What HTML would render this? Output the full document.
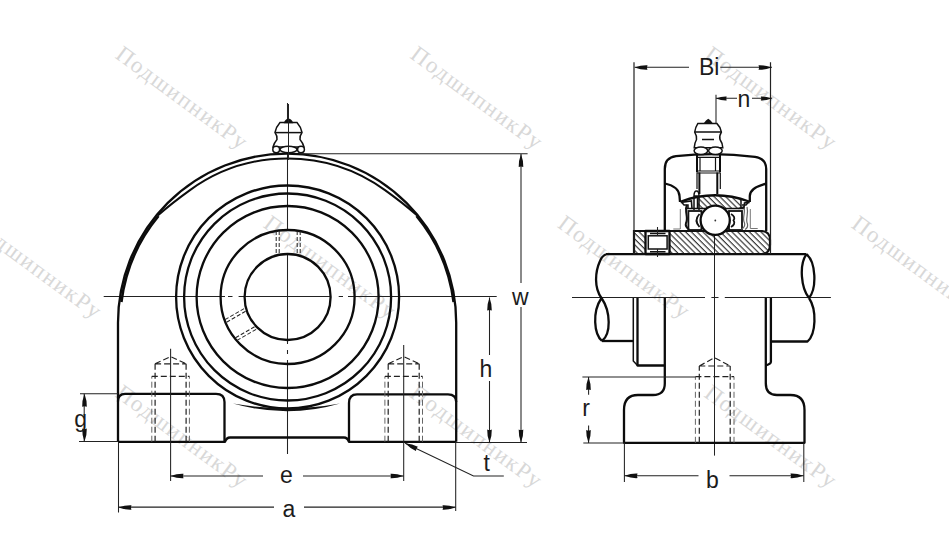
<!DOCTYPE html>
<html><head><meta charset="utf-8">
<style>
html,body{margin:0;padding:0;background:#fff;width:949px;height:543px;overflow:hidden}
svg{display:block}
.k{stroke:#0c0c0c;stroke-width:2.3;fill:none;stroke-linejoin:round}
.m{stroke:#111;stroke-width:1.5;fill:none}
.t{stroke:#222;stroke-width:1.05;fill:none}
.d{stroke:#222;stroke-width:1.2;stroke-dasharray:6 3;fill:none}
.ar{fill:#111;stroke:none}
.lbl{font-family:"Liberation Sans",sans-serif;font-size:23px;fill:#1c1c1c}
.wm{font-family:"Liberation Serif",serif;font-size:23px;letter-spacing:1.5px;fill:#d8d8d8}
</style></head>
<body>
<svg width="949" height="543" viewBox="0 0 949 543">
<defs>
<path id="arr" fill="#111" d="M0,0 Q-2.6,-7 -2.3,-13 Q0,-12 2.3,-13 Q2.6,-7 0,0 Z"/>
<pattern id="hatch" width="4.1" height="8" patternUnits="userSpaceOnUse" patternTransform="rotate(-45)">
<line x1="1" y1="-2" x2="1" y2="10" stroke="#111" stroke-width="1"/>
</pattern>
</defs>

<!-- watermarks -->
<g id="wms">
<text class="wm" transform="translate(114.2,57.3) rotate(36.3)">ПодшипникРу</text>
<text class="wm" transform="translate(409.1,57.3) rotate(36.3)">ПодшипникРу</text>
<text class="wm" transform="translate(703.2,57.6) rotate(36.3)">ПодшипникРу</text>
<text class="wm" transform="translate(-32,226.6) rotate(36.3)">ПодшипникРу</text>
<text class="wm" transform="translate(262.3,226.6) rotate(36.3)">ПодшипникРу</text>
<text class="wm" transform="translate(556.4,226.6) rotate(36.3)">ПодшипникРу</text>
<text class="wm" transform="translate(850.2,226.7) rotate(36.3)">ПодшипникРу</text>
<text class="wm" transform="translate(114.2,395.9) rotate(36.3)">ПодшипникРу</text>
<text class="wm" transform="translate(408.6,395.9) rotate(36.3)">ПодшипникРу</text>
<text class="wm" transform="translate(703,395.9) rotate(36.3)">ПодшипникРу</text>
</g>

<!-- ================= LEFT VIEW ================= -->
<g id="left">
<!-- centerlines -->
<path class="t" d="M103.7,296.5 H225 M228,296.5 H232.5 M238.6,296.5 H331 M338.7,296.5 H343 M348,296.5 H496.7"/>
<path class="t" d="M287.5,103 V231 M287.5,253 V344 M287.5,350 V354 M287.5,360 V454"/>
<!-- circles -->
<circle class="k" cx="287.6" cy="297" r="43"/>
<circle class="k" cx="287.6" cy="297" r="67"/>
<circle class="k" cx="287.6" cy="297" r="91"/>
<circle class="k" cx="287.6" cy="297" r="103.5"/>
<circle class="k" cx="287.6" cy="297" r="111.5"/>
<!-- crescent -->
<path class="ar" d="M233,403.5 Q287.5,419 340,403.5 Q287.5,413 233,403.5 Z"/>
<!-- housing -->
<path class="k" d="M118,441.8 L118,322.7 A169.1,169.1 0 0 1 456.2,322.7 L456.2,441.8"/>
<path class="k" style="stroke-width:2" d="M157.8,215.5 Q172,203 190,190.1 A166,166 0 0 1 385,190.1 Q403,203 417.2,215.5"/>
<path class="k" style="stroke-width:2.6" d="M121.4,302 A167.4,167.4 0 0 1 158.5,216"/>
<path class="k" style="stroke-width:2.6" d="M453.6,302 A167.4,167.4 0 0 0 416.5,216"/>
<!-- feet -->
<path class="k" d="M118,401.5 Q118,393.8 125,393.8 L216,393.8 Q224.5,393.8 224.5,402 L224.5,441.8"/>
<path class="k" d="M118,441.8 L225,441.8 Q226.5,437.5 230,437.5 L344,437.5 Q347.5,437.5 349,441.8 L456.2,441.8"/>
<path class="k" d="M349,441.8 L349,403 Q349,394.3 357,394.3 L448,394.3 Q456.2,394.3 456.2,402"/>
<!-- bolt holes -->
<g id="bolt1">
<path class="d" d="M155.1,441.7 V363.8 M186.1,441.7 V363.8 M155.1,363.8 H186.1 M155.1,363.8 L170.6,356.6 L186.1,363.8"/>
<path class="d" style="stroke:#666;stroke-width:1" d="M151.8,441.7 V376.4 M189.4,441.7 V376.4"/><path class="d" d="M151.8,376.4 H189.4"/>
<path class="t" d="M170.6,348.8 V481"/>
</g>
<g transform="translate(233.1,0)">
<path class="d" d="M155.1,441.7 V363.8 M186.1,441.7 V363.8 M155.1,363.8 H186.1 M155.1,363.8 L170.6,356.6 L186.1,363.8"/>
<path class="d" style="stroke:#666;stroke-width:1" d="M151.8,441.7 V376.4 M189.4,441.7 V376.4"/><path class="d" d="M151.8,376.4 H189.4"/>
<path class="t" d="M170.6,345 V481"/>
</g>
<!-- set screw holes -->
<g transform="translate(288.2,297)">
<path class="d" style="stroke-width:1;stroke-dasharray:4 2" d="M-12,-66 V-43 M-9,-66 V-43 M9,-66 V-43 M12,-66 V-43"/>
<path class="d" style="stroke-width:1;stroke-dasharray:4 2" transform="rotate(-120)" d="M-12,-66 V-43 M-9,-66 V-43 M9,-66 V-43 M12,-66 V-43"/>
</g>
<!-- grease nipple -->
<g>
<path class="m" style="fill:#fff" d="M280,122.5 L297,122.5 Q301,127 302,132.5 Q299.5,136 300,139.5 Q303,143 304,147 L273,147 Q274,143 277,139.5 Q277.5,136 275,132.5 Q276,127 280,122.5 Z"/>
<path class="m" d="M275.5,132.6 H301.5"/>
<path class="ar" d="M283.8,123.2 Q285,119.2 288.5,118.6 Q292,119.2 293.2,123.2 Z"/>
<ellipse class="m" style="fill:#fff" cx="276.2" cy="149.5" rx="3.4" ry="3.2"/>
<ellipse class="m" style="fill:#fff" cx="301" cy="149.5" rx="3.4" ry="3.2"/>
<ellipse class="m" style="fill:#fff" cx="288.5" cy="149.5" rx="8.5" ry="3.2"/>
<path class="t" d="M288.5,104 V160"/>
</g>
<!-- dimension: W -->
<path class="t" d="M300,153.8 H527.6"/>
<path class="t" d="M456,442.5 H527"/>
<path class="t" d="M521,154 V283 M521,307 V442.5"/>
<use href="#arr" transform="translate(521,154) rotate(180)"/><use href="#arr" transform="translate(521,442.5) rotate(0)"/>
<text class="lbl" x="512" y="304.7">w</text>
<!-- h -->
<path class="t" d="M489.5,297.5 V355 M489.5,381 V442.5"/>
<use href="#arr" transform="translate(489.5,297.5) rotate(180)"/><use href="#arr" transform="translate(489.5,442.5) rotate(0)"/>
<text class="lbl" x="479.5" y="376.8">h</text>
<!-- g -->
<path class="t" d="M80,393.7 H118 M79,441.5 H118"/>
<path class="t" d="M84.2,393.7 V415 M84.2,430 V441.5"/>
<use href="#arr" transform="translate(84.5,393.7) rotate(180)"/><use href="#arr" transform="translate(84.5,441.5) rotate(0)"/>
<text class="lbl" x="74.3" y="427.2">g</text>
<!-- a -->
<path class="t" d="M118.5,442 V512.6 M455.7,442 V511"/>
<path class="t" d="M118.5,507.1 H274 M304,507.1 H455.7"/>
<use href="#arr" transform="translate(118.5,507.5) rotate(90)"/><use href="#arr" transform="translate(455.5,507.5) rotate(-90)"/>
<text class="lbl" x="282.5" y="516.5">a</text>
<!-- e -->
<path class="t" d="M170.6,476 H263 M303,476 H403.7"/>
<use href="#arr" transform="translate(170.5,476) rotate(90)"/><use href="#arr" transform="translate(403.5,476) rotate(-90)"/>
<text class="lbl" x="280" y="482.8">e</text>
<!-- t -->
<path class="t" d="M405.2,443.2 L473.5,476 H503.8"/>
<use href="#arr" transform="translate(405.2,443.2) rotate(115.65)"/>
<text class="lbl" x="483.5" y="471.2">t</text>
</g>

<!-- ================= RIGHT VIEW ================= -->
<g id="right">
<!-- centerlines -->
<path class="t" d="M572,297.5 H705 M711.4,297.5 H718.5 M724.8,297.5 H830.9"/>
<path class="t" d="M714.5,235 V455.6"/>
<!-- shaft -->
<path class="k" d="M606,254.2 H806.4"/>
<path class="k" d="M606,254.2 Q602,256 600,261 C595,272 594,288 601.5,298"/>
<path class="k" d="M601.5,298 C592,312 594,334 602,341 M601.5,298 C611,312 611,334 602,341"/>
<path class="k" d="M602,341 H633.3"/>
<path class="k" d="M806.4,254.2 C799,265 801,288 809,298 M806.4,254.2 C816,262 817,288 809,298"/>
<path class="k" d="M809,298 C817,310 816,334 807.5,341.5 H770.9"/>
<!-- lower housing -->
<path class="m" d="M633.3,298 V361 L637.5,365.5"/>
<path class="k" d="M637.5,298 V365.5 H664.8"/>
<path class="k" d="M664.8,298 V383.5 Q664.8,395 653,395 H638 Q624,395 624,410 V442.8 H804.5 V410 Q804.5,395 790.5,395 H777 Q765.8,395 765.8,383.5 V298"/>
<path class="k" d="M770.9,298 V361.7 Q770.9,364 765.8,365.3"/>
<!-- bolt hole -->
<path class="d" d="M699.3,442.8 V366 M730.2,442.8 V366 M699.3,366 H730.2 M699.3,366 L714.5,357.7 L730.2,366"/>
<path class="d" style="stroke:#666;stroke-width:1" d="M695.4,442.8 V376.6 M734,442.8 V376.6"/><path class="d" d="M695.4,376.6 H734"/>
<!-- upper housing cap -->
<path class="k" d="M664.8,230.5 V169 Q664.8,157.5 676,156.2 Q715,151.8 755,156.8 Q766.2,158.5 766.2,169 V231"/>
<path class="k" d="M665,183.5 C672,185 679,189 679.5,196 L680,202"/>
<path class="k" d="M766.2,183.7 C757,186 750,190 749.8,196 V202"/>
<!-- outer ring -->
<clipPath id="orc"><rect x="697.5" y="185" width="43.5" height="30"/></clipPath>
<path style="fill:url(#hatch);stroke:none" clip-path="url(#orc)" d="M681,201.5 Q715,189 749,201.5 L745,208.5 H685 Z"/>
<path class="k" d="M681,201.5 Q715,189 749,201.5"/>
<path class="m" d="M697.5,196 V209 M741,198 V209 M685,208.5 H745"/>
<path class="m" d="M681,201.5 L684,205 H688 V209"/>
<path class="m" d="M749,201.5 L746,205 H742"/>
<!-- seals / inner ring shoulders -->
<rect class="m" style="fill:#fff;stroke-width:1.8" x="688.4" y="211" width="13" height="19"/>
<rect class="m" style="fill:#fff;stroke-width:1.8" x="729" y="211" width="13" height="19"/>
<path class="m" style="stroke:#777;stroke-width:1" d="M680.3,209 V229 H673.3 M750.3,209 V228.5 H757.7"/>
<path class="m" style="stroke-width:2" d="M687,205 C684,212 689,218 686,223 C685,226 687,228 689,229.5"/>
<path class="m" style="stroke:#666;stroke-width:1.2" d="M743.5,205 C746.5,212 741.5,218 744.5,223 C745.5,226 743.5,228 741.5,229.5 M747,207 C749,214 745,219 747.5,224 C748,227 746,229 745,229.5"/>
<path class="m" style="stroke-width:1.6" d="M680.8,202.4 L691.4,201 L692,208.5 M749.6,202.4 L744.5,203 L744,207 L738.5,208.5"/>
<path class="m" style="stroke-width:1.8" d="M699.5,214 Q693.5,220.3 699.5,227 M731,214 Q736,217 733.5,220.3 Q736,224 731,227"/>
<!-- inner ring -->
<path style="fill:url(#hatch);stroke:#111;stroke-width:2.2" d="M634,231 H762 Q770,231.5 770,240 V245 Q770,253.5 762,254 H634 Z"/>
<!-- set screw -->
<rect class="k" style="fill:#fff" x="645.5" y="231" width="24" height="23"/>
<rect class="m" x="648.3" y="235.8" width="18.8" height="13.2"/>
<path class="m" d="M650,233.4 H665.5 M650,251.8 H665.5"/>
<path class="t" d="M657.5,227 V236 M657.5,249 V257"/>
<!-- ball -->
<circle class="k" style="fill:#fff" cx="715.2" cy="220.3" r="14.6"/>
<circle cx="715.3" cy="220.5" r="0.9" fill="#333"/>
<!-- nipple tube -->
<path class="k" style="stroke-width:2" d="M697,155 V172.5 M720,155 V172.5 M699.4,172.5 V194 M717.3,172.5 V194"/>
<path class="m" style="stroke-width:1.2" d="M697,157.4 H720 M697,171 H720 M697,173 H720 M700,157.4 V171 M715.5,157.4 V171 M697,173 V189 M720.3,173 V189"/>
<path class="m" style="fill:#fff" d="M694,196 V210 M699,196 V210 M694,196 Q694,191 696.5,191 Q699,191 699,196 Z"/>
<!-- grease nipple top -->
<path class="m" style="fill:#fff" d="M697.9,123.4 H716.8 Q720.5,127 721.4,132.1 Q719,136 720,139.5 Q722.5,143 722.8,147.8 H694.2 Q694.5,143 696.5,139.5 Q697,136 694.7,132.1 Q695.5,127 697.9,123.4 Z"/>
<path class="m" d="M694.9,132.1 H721.2 M702,139.5 H714"/>
<path class="ar" d="M703.5,123.6 Q706,120 708.3,118.8 Q710.5,120 713,123.6 Z"/>
<ellipse class="m" style="fill:#fff" cx="700.9" cy="150.8" rx="6.8" ry="3.8"/>
<ellipse class="m" style="fill:#fff" cx="715.4" cy="150.8" rx="6.8" ry="3.8"/>
<!-- Bi dimension -->
<path class="t" style="stroke:#222;stroke-width:1.2" d="M634,62.2 V254 M770.5,62.2 V254"/>
<path class="t" d="M634.7,67.2 H689 M720.3,67.2 H772"/>
<use href="#arr" transform="translate(634.5,67.5) rotate(90)"/><use href="#arr" transform="translate(771.5,67.5) rotate(-90)"/>
<text class="lbl" x="699" y="74.5">Bi</text>
<!-- n dimension -->
<path class="t" d="M716,94.7 V123.4"/>
<path class="t" d="M716,98.2 H737 M752,98.2 H772"/>
<use href="#arr" transform="translate(716,98.5) rotate(90) scale(0.82)"/><use href="#arr" transform="translate(771.5,98.5) rotate(-90) scale(0.82)"/>
<text class="lbl" x="737.5" y="107.4">n</text>
<!-- r dimension -->
<path class="t" d="M582.4,376.9 H695.4 M583.3,442.9 H624"/>
<path class="t" d="M588.6,376.9 V394.8 M588.6,425.5 V442.9"/>
<use href="#arr" transform="translate(588.5,376.9) rotate(180)"/><use href="#arr" transform="translate(588.5,442.9) rotate(0)"/>
<text class="lbl" x="582.2" y="416.4">r</text>
<!-- b dimension -->
<path class="t" d="M624.4,442.8 V482 M803.8,442.8 V482"/>
<path class="t" d="M624.4,475.8 H698.5 M729.5,475.8 H803.8"/>
<use href="#arr" transform="translate(624.5,475.8) rotate(90)"/><use href="#arr" transform="translate(803.5,475.8) rotate(-90)"/>
<text class="lbl" x="706" y="487.6">b</text>
</g>
</svg>
</body></html>
